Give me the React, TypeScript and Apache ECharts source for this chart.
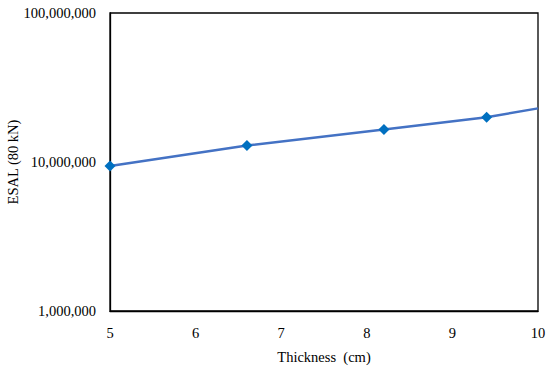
import React, { useEffect, useRef } from "react";
import * as echarts from "echarts";

const thickness = [5, 6.6, 8.2, 9.4, 10];
const esal = [9400000, 12900000, 16500000, 20000000, 22900000];
const showMarker = [true, true, true, true, false];

export default function App() {
  const ref = useRef<HTMLDivElement>(null);
  useEffect(() => {
    document.body.style.margin = "0";
    const chart = echarts.init(ref.current!, null, { renderer: "svg" });
    const font = "'Liberation Serif', 'DejaVu Serif', serif";
    chart.setOption({
      animation: false,
      backgroundColor: "#fff",
      grid: {
        left: 110,
        right: 12,
        top: 13,
        bottom: 57,
        outerBoundsMode: "none",
        containLabel: false,
        show: true,
        borderColor: "#000",
        borderWidth: 1.3,
      },
      xAxis: {
        type: "value",
        min: 5,
        max: 10,
        interval: 1,
        name: "Thickness  (cm)",
        nameLocation: "middle",
        nameGap: 38,
        nameMoveOverlap: false,
        nameTextStyle: { fontFamily: font, fontSize: 14.5, color: "#000" },
        axisLine: { show: true, lineStyle: { color: "#000", width: 1.3 } },
        axisTick: { show: false },
        splitLine: { show: false },
        axisLabel: { fontFamily: font, fontSize: 14.5, color: "#000", margin: 14 },
      },
      yAxis: {
        type: "log",
        logBase: 10,
        min: 1000000,
        max: 100000000,
        name: "ESAL (80 kN)",
        nameLocation: "middle",
        nameGap: 90,
        nameMoveOverlap: false,
        nameTextStyle: { fontFamily: font, fontSize: 14.5, color: "#000" },
        axisLine: { show: true, lineStyle: { color: "#000", width: 1.3 } },
        axisTick: { show: false },
        splitLine: { show: false },
        minorTick: { show: false },
        axisLabel: {
          fontFamily: font,
          fontSize: 14.5,
          color: "#000",
          margin: 14,
          formatter: (v: number) => Math.round(v).toLocaleString("en-US"),
        },
      },
      series: [
        {
          type: "line",
          data: thickness.map((x, i) => ({
            value: [x, esal[i]],
            symbolSize: showMarker[i] ? 11 : 0,
          })),
          symbol: "diamond",
          lineStyle: { color: "#4472C4", width: 2.5 },
          itemStyle: { color: "#0070C0" },
          clip: false,
        },
      ],
    });
    return () => chart.dispose();
  }, []);
  return <div ref={ref} style={{ width: 550, height: 368 }} />;
}
